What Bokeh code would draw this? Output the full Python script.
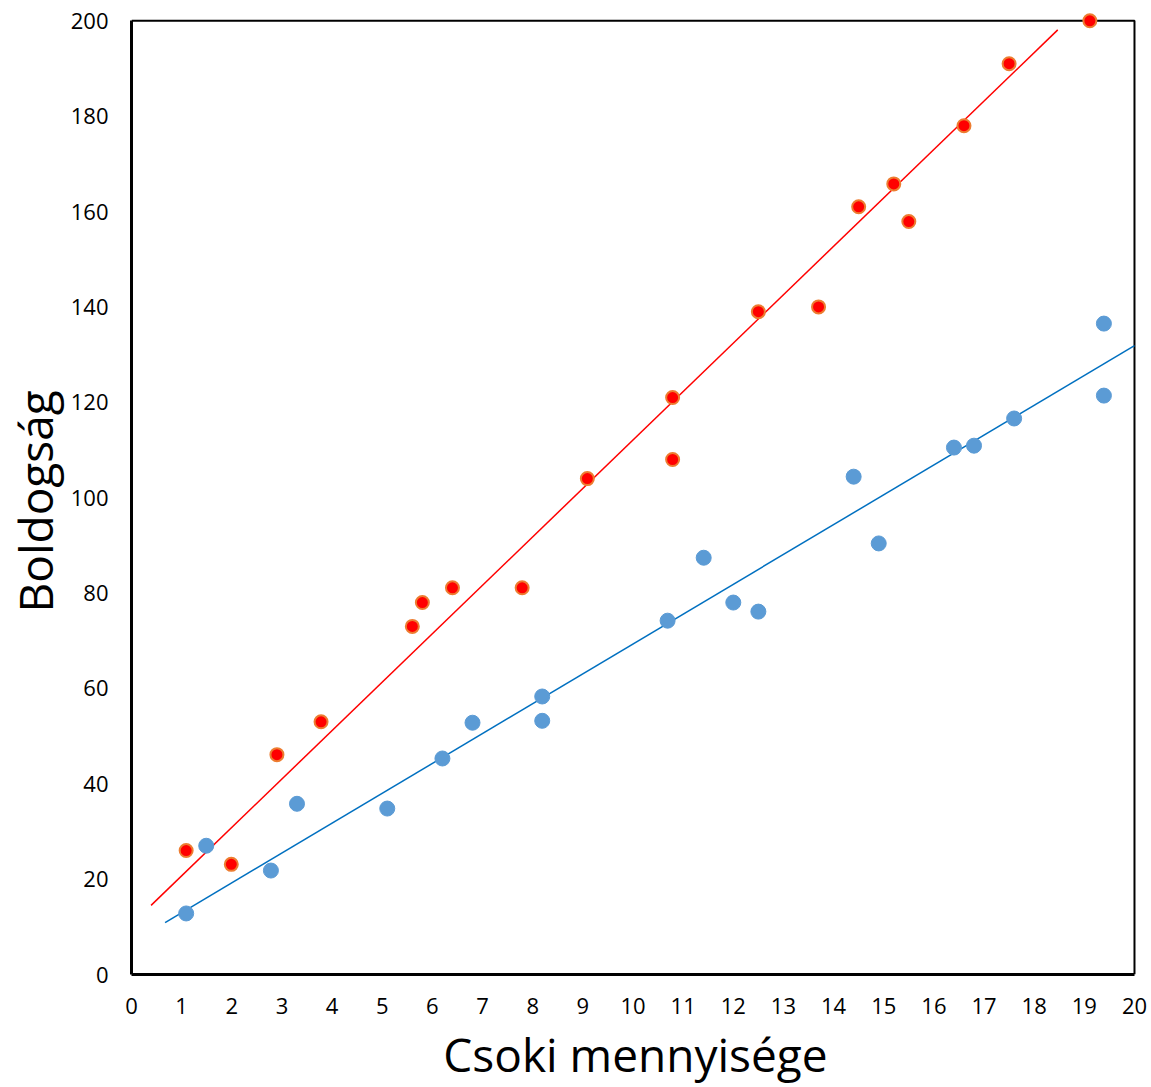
import numpy as np
from bokeh.plotting import figure
from bokeh.models import ColumnDataSource, FixedTicker, Range1d, Title
from bokeh.embed import file_html
from bokeh.resources import INLINE

# Chocolate amount vs. happiness, two groups
red_x = [1.09, 1.99, 2.90, 3.78, 5.60, 5.80, 6.40, 7.79, 9.09, 10.79, 10.79,
         12.50, 13.70, 14.50, 15.20, 15.50, 16.60, 17.50, 19.11]
red_y = [26.0, 23.1, 46.1, 53.0, 73.0, 78.0, 81.1, 81.1, 104.0, 121.0, 108.0,
         139.0, 140.0, 161.0, 165.8, 157.9, 178.0, 191.0, 200.0]

blue_x = [1.09, 1.49, 2.78, 3.30, 5.10, 6.20, 6.80, 8.19, 8.19, 10.69, 11.41,
          12.00, 12.50, 14.40, 14.90, 16.40, 16.80, 17.60, 19.39, 19.39]
blue_y = [12.8, 27.0, 21.8, 35.8, 34.8, 45.3, 52.8, 58.3, 53.2, 74.2, 87.4,
          78.0, 76.1, 104.4, 90.4, 110.5, 110.9, 116.6, 136.5, 121.4]

# linear trend lines (end points)
red_trend_x = [0.39, 18.47]
red_trend_y = [14.5, 198.1]
blue_trend_x = [0.67, 20.0]
blue_trend_y = [10.9, 131.9]

x_ticks = list(range(0, 21))
y_ticks = list(range(0, 201, 20))
X_MAX, Y_MAX = 20, 200

FONT = "Open Sans"

# ranges run slightly past the last tick so edge markers are not cut off;
# the box is drawn by hand at the last tick values
p = figure(width=1151, height=1087, output_backend="svg", toolbar_location=None,
           x_range=Range1d(0, X_MAX + 0.1), y_range=Range1d(0, Y_MAX + 3),
           min_border_left=131, min_border_right=12, min_border_top=6,
           min_border_bottom=113)
p.background_fill_color = "white"
p.border_fill_color = "white"
p.outline_line_color = None
p.grid.visible = False

for ax in (p.xaxis[0], p.yaxis[0]):
    ax.axis_line_color = "black"
    ax.axis_line_width = 3
    ax.major_tick_line_color = None
    ax.minor_tick_line_color = None
    ax.major_label_text_font = FONT
    ax.major_label_text_font_size = "22px"
    ax.major_label_text_color = "black"
    ax.axis_label_text_font = FONT
    ax.axis_label_text_font_size = "46px"
    ax.axis_label_text_font_style = "normal"
    ax.axis_label_text_color = "black"

p.xaxis.bounds = (0, X_MAX)
p.yaxis.bounds = (0, Y_MAX)
p.xaxis.ticker = FixedTicker(ticks=x_ticks)
p.yaxis.ticker = FixedTicker(ticks=y_ticks)
p.xaxis.axis_label = "Csoki mennyisége"
p.xaxis.major_label_standoff = 17
p.yaxis.major_label_standoff = 17
p.xaxis.axis_label_standoff = 6

# y axis title as a side panel, starting a fixed distance above the x axis
p.add_layout(Title(text="Boldogság", align="left", offset=362,
                   vertical_align="top", text_font=FONT,
                   text_font_size="46px", text_font_style="normal",
                   text_color="black", standoff=0), "left")

# top and right edges of the box
p.line([0, X_MAX, X_MAX], [Y_MAX, Y_MAX, 0], line_color="black", line_width=2)

p.line(red_trend_x, red_trend_y, line_color="#FF0000", line_width=1.5)
p.line(blue_trend_x, blue_trend_y, line_color="#0070C0", line_width=1.5)

p.scatter(x="x", y="y", source=ColumnDataSource(dict(x=blue_x, y=blue_y)),
          size=15, fill_color="#5B9BD5", line_color="#5B9BD5", line_width=1)
p.scatter(x="x", y="y", source=ColumnDataSource(dict(x=red_x, y=red_y)),
          size=13, fill_color="#FF0000", line_color="#ED7D31", line_width=2)

open("out.html", "w").write(file_html(p, INLINE))
